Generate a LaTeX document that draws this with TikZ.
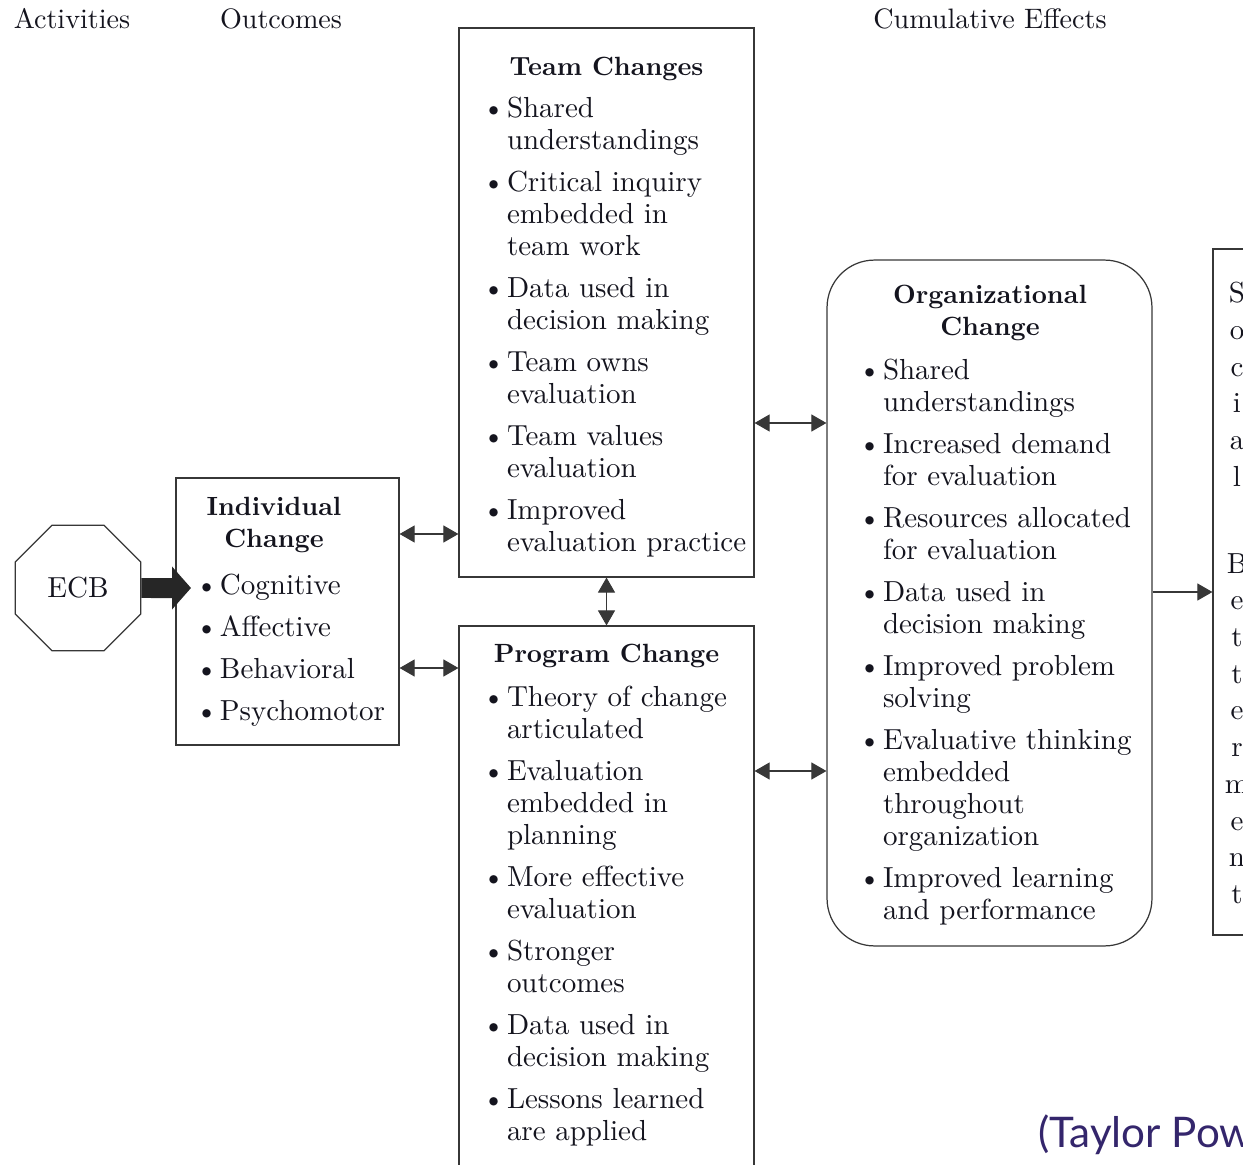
\documentclass[tikz,border=0pt]{standalone}
\usepackage{fontspec}
\setmainfont{lmroman10}[Extension=.otf,UprightFont=*-regular,BoldFont=*-bold]
\newfontfamily\citefont{Lato}
\usetikzlibrary{arrows.meta,shapes.geometric}
\definecolor{ecb_line}{RGB}{55,55,55}
\definecolor{ecb_text}{RGB}{20,20,30}
\definecolor{ecb_cite}{RGB}{52,38,108}
\newcommand{\bu}{\makebox[0.85em][l]{\textbullet}}
\newcommand{\nb}{\hspace*{0.85em}}
\tikzstyle{bx}=[rectangle,draw=ecb_line,line width=0.7pt,inner sep=0pt]
\tikzstyle{rbx}=[bx,rounded corners=0.95cm]
\tikzstyle{oct}=[regular polygon,regular polygon sides=8,draw=ecb_line,
  line width=0.7pt,inner sep=0pt,minimum size=2.72cm,text=ecb_text,
  font=\fontsize{16.5}{18.2}\selectfont]
\tikzstyle{lst}=[anchor=north west,align=left,inner sep=0pt,text=ecb_text,
  font=\fontsize{16.5}{18.2}\selectfont]
\tikzstyle{ttl}=[anchor=north,align=center,inner sep=0pt,text=ecb_text,
  font=\fontsize{15}{18.2}\selectfont\bfseries]
\tikzstyle{hdr}=[anchor=base,inner sep=0pt,text=ecb_text,
  font=\fontsize{16}{19}\selectfont]
\tikzstyle{dbl}=[draw=ecb_line,line width=0.6pt,
  {Triangle[length=0.3cm,width=0.34cm]}-{Triangle[length=0.3cm,width=0.34cm]}]
\tikzstyle{sgl}=[draw=ecb_line,line width=0.6pt,-{Triangle[length=0.3cm,width=0.34cm]}]
\tikzstyle{fat}=[draw=black!85,line width=0.4cm,-{Triangle[length=0.38cm,width=0.84cm]}]
\tikzstyle{none}=[inner sep=0pt]

\begin{document}
\begin{tikzpicture}[x=0.02cm, y=-0.02cm]
            \useasboundingbox (0, 0) rectangle (1243, 1165);
            % column heads
            \node [style=hdr] (h0) at (72, 29) {Activities};
            \node [style=hdr] (h1) at (281, 29) {Outcomes};
            \node [style=hdr] (h2) at (990, 29) {Cumulative Effects};
            % boxes
            \node [style=oct] (ecb) at (78, 588) {ECB};
            \node [style=bx, minimum width=4.46cm, minimum height=5.34cm] (indiv) at (287.5, 611.5) {};
            \node [style=bx, minimum width=5.9cm, minimum height=10.98cm] (team) at (606.5, 302.5) {};
            \node [style=bx, minimum width=5.9cm, minimum height=11.18cm] (prog) at (606.5, 905.5) {};
            \node [style=rbx, minimum width=6.5cm, minimum height=13.72cm] (org) at (989.5, 603) {};
            \node [style=bx, minimum width=3.74cm, minimum height=13.72cm] (soc) at (1306.5, 592) {};
            % titles
            \node [style=ttl] (indiv-t) at (274, 497) {Individual\\Change};
            \node [style=ttl] (team-t) at (606.5, 57) {Team Changes};
            \node [style=ttl] (prog-t) at (606.5, 644) {Program Change};
            \node [style=ttl] (org-t) at (990, 285) {Organizational\\Change};
            % lists
            \node [style=lst] (indiv-l) at (195, 574) {\bu Cognitive\\[0.2cm] \bu Affective\\[0.2cm]
              \bu Behavioral\\[0.2cm] \bu Psychomotor};
            \node [style=lst] (team-l) at (482, 97) {\bu Shared\\ \nb understandings\\[0.2cm]
              \bu Critical inquiry\\ \nb embedded in\\ \nb team work\\[0.2cm]
              \bu Data used in\\ \nb decision making\\[0.2cm]
              \bu Team owns\\ \nb evaluation\\[0.2cm]
              \bu Team values\\ \nb evaluation\\[0.2cm]
              \bu Improved\\ \nb evaluation practice};
            \node [style=lst] (prog-l) at (482, 686) {\bu Theory of change\\ \nb articulated\\[0.2cm]
              \bu Evaluation\\ \nb embedded in\\ \nb planning\\[0.2cm]
              \bu More effective\\ \nb evaluation\\[0.2cm]
              \bu Stronger\\ \nb outcomes\\[0.2cm]
              \bu Data used in\\ \nb decision making\\[0.2cm]
              \bu Lessons learned\\ \nb are applied};
            \node [style=lst] (org-l) at (858, 359) {\bu Shared\\ \nb understandings\\[0.2cm]
              \bu Increased demand\\ \nb for evaluation\\[0.2cm]
              \bu Resources allocated\\ \nb for evaluation\\[0.2cm]
              \bu Data used in\\ \nb decision making\\[0.2cm]
              \bu Improved problem\\ \nb solving\\[0.2cm]
              \bu Evaluative thinking\\ \nb embedded\\ \nb throughout\\ \nb organization\\[0.2cm]
              \bu Improved learning\\ \nb and performance};
            \node [style=lst, anchor=north, align=center, font=\fontsize{16.5}{20.9}\selectfont] (soc-l) at (1237, 282)
              {S\\o\\c\\i\\a\\l\\[1.0cm]B\\e\\t\\t\\e\\r\\m\\e\\n\\t};
            \node [style=none, anchor=base west, text=ecb_cite, font=\fontsize{24}{28}\citefont] (cite) at (1038, 1147) {(Taylor Pow};
            % connectors
            \coordinate (tip) at (191, 588);
            \draw [style=fat] (ecb) to (tip);
            \draw [style=dbl] (indiv.east |- 0,534) to (team.west |- 0,534);
            \draw [style=dbl] (indiv.east |- 0,668) to (prog.west |- 0,668);
            \draw [style=dbl] (team.south) to (prog.north);
            \draw [style=dbl] (team.east |- 0,423) to (org.west |- 0,423);
            \draw [style=dbl] (prog.east |- 0,771) to (org.west |- 0,771);
            \draw [style=sgl] (org.east |- 0,592) to (soc.west |- 0,592);
    \end{tikzpicture}
\end{document}
